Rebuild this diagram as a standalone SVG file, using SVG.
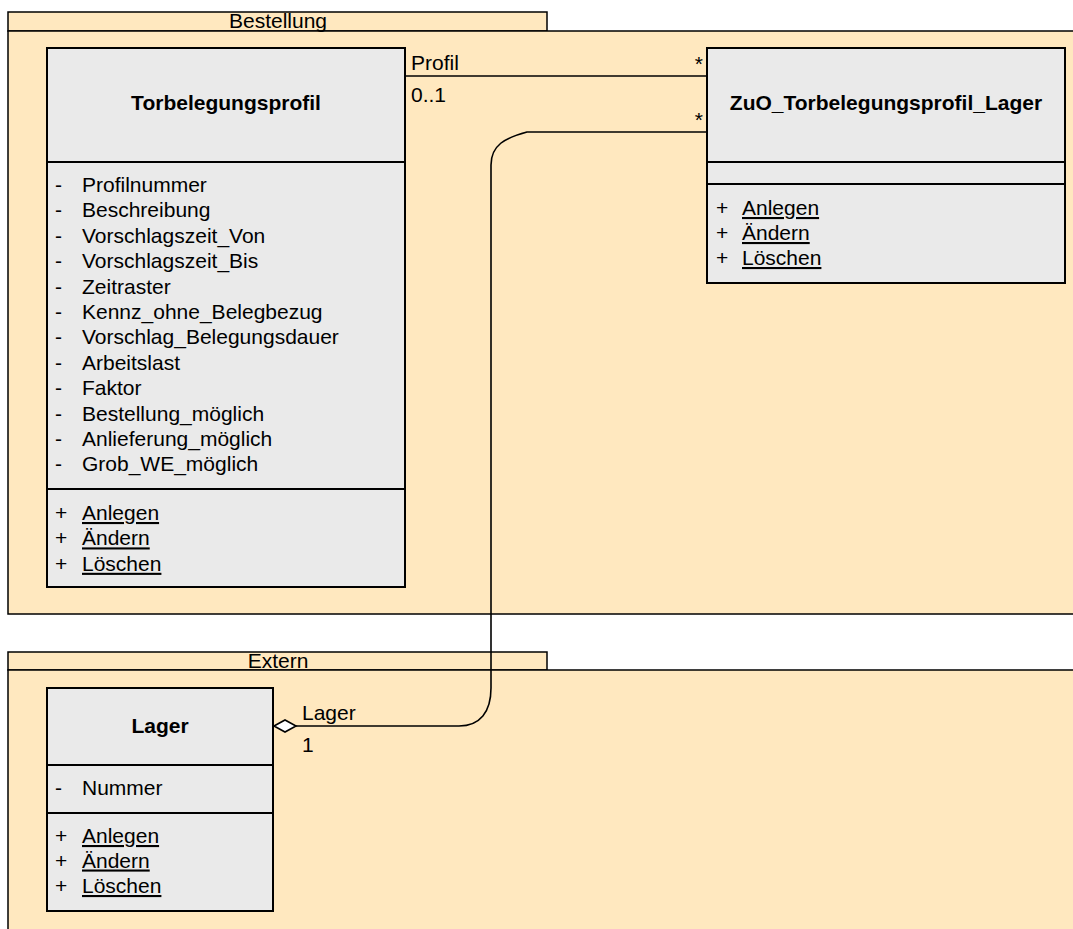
<svg xmlns="http://www.w3.org/2000/svg" width="1073" height="929" viewBox="0 0 1073 929">
<style>
.pkg{fill:#FFE8BF;stroke:#000;stroke-width:1.5}
.cls{fill:#EAEAEA;stroke:#000;stroke-width:2}
.sep{stroke:#000;stroke-width:2}
text{font-family:"Liberation Sans",Arial,sans-serif;font-size:21px;fill:#000}
.t{font-weight:bold;text-anchor:middle}
.m{text-anchor:middle}
.u{text-decoration:underline}
.con{fill:none;stroke:#000;stroke-width:1.6}
</style>
<g id="pkg-bestellung">
<rect class="pkg" x="8" y="12" width="539" height="19"/>
<rect class="pkg" x="8" y="31" width="1070" height="583"/>
<text class="m" x="278" y="28">Bestellung</text>
</g>
<g id="pkg-extern">
<rect class="pkg" x="8" y="652" width="539" height="18"/>
<rect class="pkg" x="8" y="670" width="1070" height="270"/>
<text class="m" x="278" y="668">Extern</text>
</g>
<g id="class-torbelegungsprofil">
<rect class="cls" x="47" y="48" width="358" height="539"/>
<line class="sep" x1="47" y1="162" x2="405" y2="162"/>
<line class="sep" x1="47" y1="489" x2="405" y2="489"/>
<text class="t" x="226" y="110">Torbelegungsprofil</text>
<text x="55" y="192">-</text><text x="82" y="192">Profilnummer</text>
<text x="55" y="217.4">-</text><text x="82" y="217.4">Beschreibung</text>
<text x="55" y="242.8">-</text><text x="82" y="242.8">Vorschlagszeit_Von</text>
<text x="55" y="268.2">-</text><text x="82" y="268.2">Vorschlagszeit_Bis</text>
<text x="55" y="293.6">-</text><text x="82" y="293.6">Zeitraster</text>
<text x="55" y="319">-</text><text x="82" y="319">Kennz_ohne_Belegbezug</text>
<text x="55" y="344.4">-</text><text x="82" y="344.4">Vorschlag_Belegungsdauer</text>
<text x="55" y="369.8">-</text><text x="82" y="369.8">Arbeitslast</text>
<text x="55" y="395.2">-</text><text x="82" y="395.2">Faktor</text>
<text x="55" y="420.6">-</text><text x="82" y="420.6">Bestellung_möglich</text>
<text x="55" y="446">-</text><text x="82" y="446">Anlieferung_möglich</text>
<text x="55" y="471.4">-</text><text x="82" y="471.4">Grob_WE_möglich</text>
<text x="55" y="520">+</text><text class="u" x="82" y="520">Anlegen</text>
<text x="55" y="545.4">+</text><text class="u" x="82" y="545.4">Ändern</text>
<text x="55" y="570.8">+</text><text class="u" x="82" y="570.8">Löschen</text>
</g>
<g id="class-zuo">
<rect class="cls" x="707" y="48" width="358" height="235"/>
<line class="sep" x1="707" y1="162" x2="1065" y2="162"/>
<line class="sep" x1="707" y1="184" x2="1065" y2="184"/>
<text class="t" x="886" y="110">ZuO_Torbelegungsprofil_Lager</text>
<text x="716" y="215">+</text><text class="u" x="742" y="215">Anlegen</text>
<text x="716" y="240">+</text><text class="u" x="742" y="240">Ändern</text>
<text x="716" y="265">+</text><text class="u" x="742" y="265">Löschen</text>
</g>
<g id="class-lager">
<rect class="cls" x="47" y="688" width="226" height="223"/>
<line class="sep" x1="47" y1="765" x2="273" y2="765"/>
<line class="sep" x1="47" y1="813" x2="273" y2="813"/>
<text class="t" x="160" y="733">Lager</text>
<text x="55" y="795">-</text><text x="82" y="795">Nummer</text>
<text x="55" y="843">+</text><text class="u" x="82" y="843">Anlegen</text>
<text x="55" y="867.5">+</text><text class="u" x="82" y="867.5">Ändern</text>
<text x="55" y="893">+</text><text class="u" x="82" y="893">Löschen</text>
</g>
<g id="connectors">
<line class="con" x1="405" y1="76" x2="707" y2="76"/>
<text x="411" y="70">Profil</text>
<text x="411" y="102">0..1</text>
<text x="703" y="71" style="text-anchor:end">*</text>
<path class="con" d="M707,132 L527,132 C505,138 491,145 491,165 L491,688 C491,712 480,726 459,726 L296,726"/>
<path d="M274,726 L285,720 L296,726 L285,732 Z" fill="#fff" stroke="#000" stroke-width="1.6"/>
<text x="703" y="127" style="text-anchor:end">*</text>
<text x="302" y="720">Lager</text>
<text x="302" y="752">1</text>
</g>
</svg>
